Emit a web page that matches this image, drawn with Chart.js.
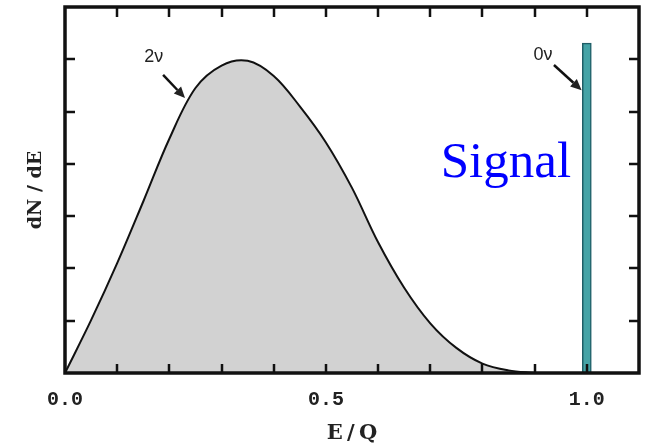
<!DOCTYPE html>
<html>
<head>
<meta charset="utf-8">
<script src="https://cdn.jsdelivr.net/npm/chart.js@4.4.1/dist/chart.umd.min.js"></script>
<style>
  html, body { margin: 0; padding: 0; background: #fff; }
  #wrap { width: 649px; height: 446px; }
</style>
</head>
<body>
<div id="wrap"><canvas id="chart" width="649" height="446"></canvas></div>
<script>
// 2nu spectrum (E/Q, dN/dE in tick units)
const energy = [0, 0.05, 0.10, 0.15, 0.20, 0.25, 0.30, 0.35, 0.40, 0.45, 0.50, 0.55,
  0.60, 0.65, 0.70, 0.75, 0.80, 0.85, 0.90];
const rate2nu = [0, 1.01, 2.10, 3.28, 4.48, 5.45, 5.88, 5.97, 5.68, 5.10, 4.41, 3.54,
  2.50, 1.63, 0.95, 0.48, 0.18, 0.05, 0];

// 0nu line at the endpoint
const energy0nu = [1.0];
const rate0nu = [6.31];

// x tick labels that are printed
const xLabels = ['0.0', '0.5', '1.0'];

// annotations (data coords)
const noteText = ['2\u03bd', '0\u03bd'];
const notePos = [[0.170, 6.04], [0.916, 6.08]];
const arrowFrom = [[0.188, 5.70], [0.937, 5.89]];
const arrowTo = [[0.230, 5.26], [0.990, 5.41]];
const signalText = 'Signal';
const signalPos = [0.720, 3.75];

const frame = {
  id: 'frame',
  afterDatasetsDraw(chart) {
    const { ctx, chartArea: a, scales: { x, y } } = chart;
    ctx.save();
    ctx.strokeStyle = '#111';
    ctx.lineWidth = 2.5;
    ctx.lineCap = 'butt';
    // inward ticks on all four sides
    x.ticks.forEach(t => {
      if (t.value <= 1e-6 || t.value >= 1.1 - 1e-6) return;
      const px = Math.round(x.getPixelForValue(t.value));
      ctx.beginPath();
      ctx.moveTo(px, a.bottom); ctx.lineTo(px, a.bottom - 9);
      ctx.moveTo(px, a.top); ctx.lineTo(px, a.top + 10);
      ctx.stroke();
    });
    y.ticks.forEach(t => {
      if (t.value <= 1e-6 || t.value >= 7 - 1e-6) return;
      const py = Math.round(y.getPixelForValue(t.value));
      ctx.beginPath();
      ctx.moveTo(a.left, py); ctx.lineTo(a.left + 10, py);
      ctx.moveTo(a.right, py); ctx.lineTo(a.right - 10, py);
      ctx.stroke();
    });
    ctx.lineWidth = 3.5;
    ctx.strokeRect(a.left, a.top, a.right - a.left, a.bottom - a.top);

    // arrows + labels
    ctx.fillStyle = '#222';
    ctx.strokeStyle = '#111';
    ctx.lineWidth = 2.5;
    for (let i = 0; i < arrowFrom.length; i++) {
      const x0 = x.getPixelForValue(arrowFrom[i][0]), y0 = y.getPixelForValue(arrowFrom[i][1]);
      const x1 = x.getPixelForValue(arrowTo[i][0]), y1 = y.getPixelForValue(arrowTo[i][1]);
      const ang = Math.atan2(y1 - y0, x1 - x0);
      const hl = 11, hw = 5;
      const bx = x1 - hl * Math.cos(ang), by = y1 - hl * Math.sin(ang);
      ctx.beginPath();
      ctx.moveTo(x0, y0); ctx.lineTo(bx, by);
      ctx.stroke();
      ctx.beginPath();
      ctx.moveTo(x1, y1);
      ctx.lineTo(bx + hw * Math.sin(ang), by - hw * Math.cos(ang));
      ctx.lineTo(bx - hw * Math.sin(ang), by + hw * Math.cos(ang));
      ctx.closePath();
      ctx.fill();

      ctx.font = '18px "Liberation Sans"';
      ctx.textAlign = 'center';
      ctx.textBaseline = 'middle';
      ctx.fillText(noteText[i], x.getPixelForValue(notePos[i][0]), y.getPixelForValue(notePos[i][1]));
    }

    ctx.fillStyle = '#0000ff';
    ctx.font = '51px "Liberation Serif"';
    ctx.textAlign = 'left';
    ctx.textBaseline = 'alphabetic';
    ctx.fillText(signalText, x.getPixelForValue(signalPos[0]), y.getPixelForValue(signalPos[1]));
    ctx.restore();
  }
};

new Chart(document.getElementById('chart'), {
  type: 'line',
  data: {
    datasets: [
      {
        type: 'line',
        label: '2nu',
        data: energy.map((e, i) => ({ x: e, y: rate2nu[i] })),
        borderColor: '#111',
        borderWidth: 2,
        backgroundColor: '#d2d2d2',
        fill: 'origin',
        pointRadius: 0,
        tension: 0.35,
        order: 2,
      },
      {
        type: 'bar',
        label: '0nu',
        data: energy0nu.map((e, i) => ({ x: e, y: rate0nu[i] })),
        backgroundColor: '#45a3a6',
        borderColor: '#1f5d66',
        borderWidth: 1.5,
        barThickness: 9,
        order: 1,
      },
    ],
  },
  options: {
    responsive: false,
    animation: false,
    layout: { padding: { top: 7, right: 10, left: 0, bottom: 0 } },
    plugins: {
      legend: { display: false },
      tooltip: { enabled: false },
    },
    scales: {
      x: {
        type: 'linear',
        min: 0,
        max: 1.1,
        offset: false,
        grid: { display: false, drawTicks: false },
        border: { display: false },
        ticks: {
          stepSize: 0.1,
          autoSkip: false,
          maxRotation: 0,
          padding: 15,
          color: '#222',
          font: { family: 'Liberation Mono', size: 20, weight: 'bold' },
          callback: (v) => {
            const k = Math.round(v * 2);
            if (Math.abs(v * 2 - k) > 1e-6 || k > 2) return '';
            return xLabels[k];
          },
        },
        title: {
          display: true,
          text: 'E\u2009/\u2009Q',
          color: '#222',
          font: { family: 'DejaVu Serif', size: 21, weight: 'bold' },
          padding: { top: 0, bottom: 0 },
        },
        afterFit: (s) => { s.height = 73; s.paddingLeft = 0; s.paddingRight = 0; },
      },
      y: {
        min: 0,
        max: 7,
        grid: { display: false, drawTicks: false },
        border: { display: false },
        ticks: { stepSize: 1, display: false },
        title: {
          display: true,
          text: 'dN / dE',
          color: '#222',
          font: { family: 'DejaVu Serif', size: 19, weight: 'bold' },
          padding: { top: 25, bottom: 0 },
        },
        afterFit: (s) => { s.width = 65; },
      },
    },
  },
  plugins: [frame],
});
</script>
</body>
</html>
